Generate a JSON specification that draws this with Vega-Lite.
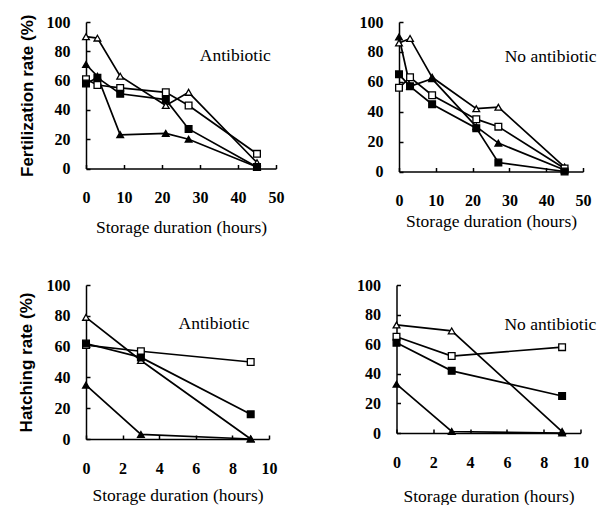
{
  "$schema": "https://vega.github.io/schema/vega-lite/v6.json",
  "background": "white",
  "padding": {"left": 17, "top": 14, "right": 0, "bottom": 0},
  "datasets": {
    "pts": [
      {"panel": "TL", "series": "OT", "t": 0, "v": 90},
      {"panel": "TL", "series": "OT", "t": 3, "v": 89},
      {"panel": "TL", "series": "OT", "t": 9, "v": 63},
      {"panel": "TL", "series": "OT", "t": 21, "v": 43},
      {"panel": "TL", "series": "OT", "t": 27, "v": 52},
      {"panel": "TL", "series": "OT", "t": 45, "v": 4},
      {"panel": "TL", "series": "FT", "t": 0, "v": 71},
      {"panel": "TL", "series": "FT", "t": 3, "v": 63},
      {"panel": "TL", "series": "FT", "t": 9, "v": 23},
      {"panel": "TL", "series": "FT", "t": 21, "v": 24},
      {"panel": "TL", "series": "FT", "t": 27, "v": 20},
      {"panel": "TL", "series": "FT", "t": 45, "v": 1},
      {"panel": "TL", "series": "OS", "t": 0, "v": 61},
      {"panel": "TL", "series": "OS", "t": 3, "v": 57},
      {"panel": "TL", "series": "OS", "t": 9, "v": 55},
      {"panel": "TL", "series": "OS", "t": 21, "v": 52},
      {"panel": "TL", "series": "OS", "t": 27, "v": 43},
      {"panel": "TL", "series": "OS", "t": 45, "v": 10},
      {"panel": "TL", "series": "FS", "t": 0, "v": 58},
      {"panel": "TL", "series": "FS", "t": 3, "v": 62},
      {"panel": "TL", "series": "FS", "t": 9, "v": 51},
      {"panel": "TL", "series": "FS", "t": 21, "v": 47},
      {"panel": "TL", "series": "FS", "t": 27, "v": 27},
      {"panel": "TL", "series": "FS", "t": 45, "v": 1},

      {"panel": "TR", "series": "OT", "t": 0, "v": 86},
      {"panel": "TR", "series": "OT", "t": 3, "v": 89},
      {"panel": "TR", "series": "OT", "t": 9, "v": 63},
      {"panel": "TR", "series": "OT", "t": 21, "v": 42},
      {"panel": "TR", "series": "OT", "t": 27, "v": 43},
      {"panel": "TR", "series": "OT", "t": 45, "v": 3},
      {"panel": "TR", "series": "FT", "t": 0, "v": 90},
      {"panel": "TR", "series": "FT", "t": 3, "v": 57},
      {"panel": "TR", "series": "FT", "t": 9, "v": 62},
      {"panel": "TR", "series": "FT", "t": 21, "v": 30},
      {"panel": "TR", "series": "FT", "t": 27, "v": 19},
      {"panel": "TR", "series": "FT", "t": 45, "v": 1},
      {"panel": "TR", "series": "OS", "t": 0, "v": 56},
      {"panel": "TR", "series": "OS", "t": 3, "v": 63},
      {"panel": "TR", "series": "OS", "t": 9, "v": 51},
      {"panel": "TR", "series": "OS", "t": 21, "v": 35},
      {"panel": "TR", "series": "OS", "t": 27, "v": 30},
      {"panel": "TR", "series": "OS", "t": 45, "v": 2},
      {"panel": "TR", "series": "FS", "t": 0, "v": 65},
      {"panel": "TR", "series": "FS", "t": 3, "v": 57},
      {"panel": "TR", "series": "FS", "t": 9, "v": 45},
      {"panel": "TR", "series": "FS", "t": 21, "v": 29},
      {"panel": "TR", "series": "FS", "t": 27, "v": 6},
      {"panel": "TR", "series": "FS", "t": 45, "v": 0},

      {"panel": "BL", "series": "OT", "t": 0, "v": 79},
      {"panel": "BL", "series": "OT", "t": 3, "v": 51},
      {"panel": "BL", "series": "OT", "t": 9, "v": 0},
      {"panel": "BL", "series": "FT", "t": 0, "v": 35},
      {"panel": "BL", "series": "FT", "t": 3, "v": 3},
      {"panel": "BL", "series": "FT", "t": 9, "v": 0},
      {"panel": "BL", "series": "OS", "t": 0, "v": 61},
      {"panel": "BL", "series": "OS", "t": 3, "v": 57},
      {"panel": "BL", "series": "OS", "t": 9, "v": 50},
      {"panel": "BL", "series": "FS", "t": 0, "v": 62},
      {"panel": "BL", "series": "FS", "t": 3, "v": 53},
      {"panel": "BL", "series": "FS", "t": 9, "v": 16},

      {"panel": "BR", "series": "OT", "t": 0, "v": 73},
      {"panel": "BR", "series": "OT", "t": 3, "v": 69},
      {"panel": "BR", "series": "OT", "t": 9, "v": 1},
      {"panel": "BR", "series": "FT", "t": 0, "v": 33},
      {"panel": "BR", "series": "FT", "t": 3, "v": 1},
      {"panel": "BR", "series": "FT", "t": 9, "v": 0},
      {"panel": "BR", "series": "OS", "t": 0, "v": 65},
      {"panel": "BR", "series": "OS", "t": 3, "v": 52},
      {"panel": "BR", "series": "OS", "t": 9, "v": 58},
      {"panel": "BR", "series": "FS", "t": 0, "v": 61},
      {"panel": "BR", "series": "FS", "t": 3, "v": 42},
      {"panel": "BR", "series": "FS", "t": 9, "v": 25}
    ],
    "notes": [
      {"panel": "TL", "label": "Antibiotic", "t": 39.3, "v": 76.7},
      {"panel": "TR", "label": "No antibiotic", "t": 41.2, "v": 76.7},
      {"panel": "BL", "label": "Antibiotic", "t": 7.0, "v": 74.4},
      {"panel": "BR", "label": "No antibiotic", "t": 8.36, "v": 73.3}
    ]
  },
  "config": {
    "view": {"stroke": null},
    "axis": {
      "domainColor": "black", "domainWidth": 1.5,
      "tickColor": "black", "tickWidth": 1.5, "tickSize": -4,
      "grid": false,
      "labelFont": "Liberation Serif, Times New Roman, DejaVu Serif, serif", "labelFontSize": 16, "labelFontWeight": "bold", "labelColor": "black",
      "titleColor": "black", "labelFlush": false
    },
    "axisX": {"labelPadding": 25, "titleFont": "Liberation Serif, Times New Roman, DejaVu Serif, serif", "titleFontSize": 17.5, "titleFontWeight": "normal"},
    "axisY": {"labelPadding": 20, "titleFont": "Liberation Sans, Arial, sans-serif", "titleFontSize": 17, "titleFontWeight": "bold"}
  },
  "spacing": 41,
  "columns": 1,
  "align": "none",
  "concat": [
    {
      "spacing": 75,
      "hconcat": [
        {
          "width": 190, "height": 146.5,
          "encoding": {
            "x": {"field": "t", "type": "quantitative", "scale": {"domain": [0, 50], "nice": false}, "axis": {"values": [0, 10, 20, 30, 40, 50], "title": "Storage duration (hours)", "titlePadding": 13}},
            "y": {"field": "v", "type": "quantitative", "scale": {"domain": [0, 100], "nice": false}, "axis": {"values": [0, 20, 40, 60, 80, 100], "title": "Fertilization rate (%)", "titlePadding": 9.5}}
          },
          "layer": [
            {"data": {"name": "pts"}, "transform": [{"filter": "datum.panel === 'TL'"}], "mark": {"type": "line", "color": "black", "strokeWidth": 1.7}, "encoding": {"detail": {"field": "series"}}},
            {"data": {"name": "pts"}, "transform": [{"filter": "datum.panel === 'TL'"}], "mark": {"type": "point", "filled": true, "stroke": "black", "strokeWidth": 1.3, "size": 45, "opacity": 1},
             "encoding": {
               "shape": {"field": "series", "scale": {"domain": ["OT", "FT", "OS", "FS"], "range": ["triangle-up", "triangle-up", "square", "square"]}, "legend": null},
               "fill": {"field": "series", "scale": {"domain": ["OT", "FT", "OS", "FS"], "range": ["white", "black", "white", "black"]}, "legend": null}
             }},
            {"data": {"name": "notes"}, "transform": [{"filter": "datum.panel === 'TL'"}], "mark": {"type": "text", "font": "Liberation Serif, Times New Roman, DejaVu Serif, serif", "fontSize": 17.5, "color": "black", "align": "center", "baseline": "middle"}, "encoding": {"text": {"field": "label"}}}
          ]
        },
        {
          "width": 184, "height": 149.5,
          "encoding": {
            "x": {"field": "t", "type": "quantitative", "scale": {"domain": [0, 50], "nice": false}, "axis": {"values": [0, 10, 20, 30, 40, 50], "title": "Storage duration (hours)", "titlePadding": 4}},
            "y": {"field": "v", "type": "quantitative", "scale": {"domain": [0, 100], "nice": false}, "axis": {"values": [0, 20, 40, 60, 80, 100], "title": null}}
          },
          "layer": [
            {"data": {"name": "pts"}, "transform": [{"filter": "datum.panel === 'TR'"}], "mark": {"type": "line", "color": "black", "strokeWidth": 1.7}, "encoding": {"detail": {"field": "series"}}},
            {"data": {"name": "pts"}, "transform": [{"filter": "datum.panel === 'TR'"}], "mark": {"type": "point", "filled": true, "stroke": "black", "strokeWidth": 1.3, "size": 45, "opacity": 1},
             "encoding": {
               "shape": {"field": "series", "scale": {"domain": ["OT", "FT", "OS", "FS"], "range": ["triangle-up", "triangle-up", "square", "square"]}, "legend": null},
               "fill": {"field": "series", "scale": {"domain": ["OT", "FT", "OS", "FS"], "range": ["white", "black", "white", "black"]}, "legend": null}
             }},
            {"data": {"name": "notes"}, "transform": [{"filter": "datum.panel === 'TR'"}], "mark": {"type": "text", "font": "Liberation Serif, Times New Roman, DejaVu Serif, serif", "fontSize": 17.5, "color": "black", "align": "center", "baseline": "middle"}, "encoding": {"text": {"field": "label"}}}
          ]
        }
      ]
    },
    {
      "spacing": 79.5,
      "hconcat": [
        {
          "width": 183, "height": 154,
          "encoding": {
            "x": {"field": "t", "type": "quantitative", "scale": {"domain": [0, 10], "nice": false}, "axis": {"values": [0, 2, 4, 6, 8, 10], "title": "Storage duration (hours)", "titlePadding": 10}},
            "y": {"field": "v", "type": "quantitative", "scale": {"domain": [0, 100], "nice": false}, "axis": {"values": [0, 20, 40, 60, 80, 100], "title": "Hatching rate (%)", "titlePadding": 10.5}}
          },
          "layer": [
            {"data": {"name": "pts"}, "transform": [{"filter": "datum.panel === 'BL'"}], "mark": {"type": "line", "color": "black", "strokeWidth": 1.7}, "encoding": {"detail": {"field": "series"}}},
            {"data": {"name": "pts"}, "transform": [{"filter": "datum.panel === 'BL'"}], "mark": {"type": "point", "filled": true, "stroke": "black", "strokeWidth": 1.3, "size": 45, "opacity": 1},
             "encoding": {
               "shape": {"field": "series", "scale": {"domain": ["OT", "FT", "OS", "FS"], "range": ["triangle-up", "triangle-up", "square", "square"]}, "legend": null},
               "fill": {"field": "series", "scale": {"domain": ["OT", "FT", "OS", "FS"], "range": ["white", "black", "white", "black"]}, "legend": null}
             }},
            {"data": {"name": "notes"}, "transform": [{"filter": "datum.panel === 'BL'"}], "mark": {"type": "text", "font": "Liberation Serif, Times New Roman, DejaVu Serif, serif", "fontSize": 17.5, "color": "black", "align": "center", "baseline": "middle"}, "encoding": {"text": {"field": "label"}}}
          ]
        },
        {
          "width": 184, "height": 148,
          "encoding": {
            "x": {"field": "t", "type": "quantitative", "scale": {"domain": [0, 10], "nice": false}, "axis": {"values": [0, 2, 4, 6, 8, 10], "title": "Storage duration (hours)", "titlePadding": 17}},
            "y": {"field": "v", "type": "quantitative", "scale": {"domain": [0, 100], "nice": false}, "axis": {"values": [0, 20, 40, 60, 80, 100], "title": null}}
          },
          "layer": [
            {"data": {"name": "pts"}, "transform": [{"filter": "datum.panel === 'BR'"}], "mark": {"type": "line", "color": "black", "strokeWidth": 1.7}, "encoding": {"detail": {"field": "series"}}},
            {"data": {"name": "pts"}, "transform": [{"filter": "datum.panel === 'BR'"}], "mark": {"type": "point", "filled": true, "stroke": "black", "strokeWidth": 1.3, "size": 45, "opacity": 1},
             "encoding": {
               "shape": {"field": "series", "scale": {"domain": ["OT", "FT", "OS", "FS"], "range": ["triangle-up", "triangle-up", "square", "square"]}, "legend": null},
               "fill": {"field": "series", "scale": {"domain": ["OT", "FT", "OS", "FS"], "range": ["white", "black", "white", "black"]}, "legend": null}
             }},
            {"data": {"name": "notes"}, "transform": [{"filter": "datum.panel === 'BR'"}], "mark": {"type": "text", "font": "Liberation Serif, Times New Roman, DejaVu Serif, serif", "fontSize": 17.5, "color": "black", "align": "center", "baseline": "middle"}, "encoding": {"text": {"field": "label"}}}
          ]
        }
      ]
    }
  ]
}
